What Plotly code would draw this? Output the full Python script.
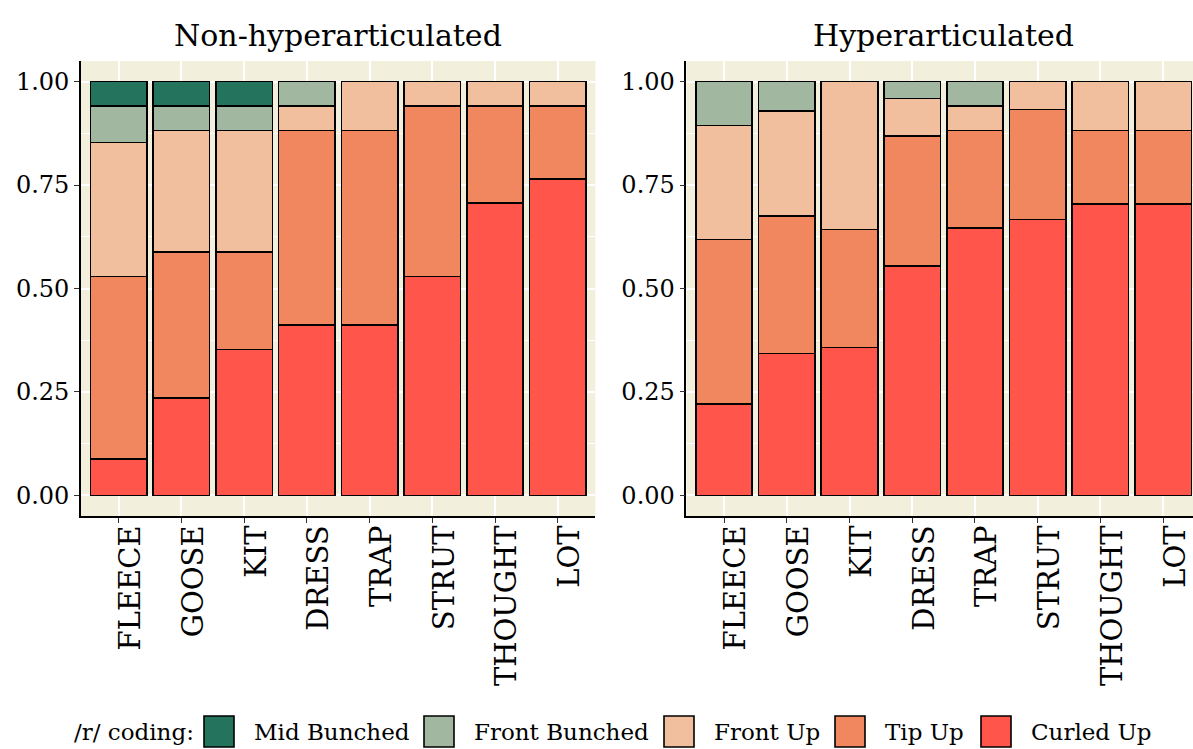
import plotly.graph_objects as go

W, H = 1193, 749

categories = ["FLEECE", "GOOSE", "KIT", "DRESS", "TRAP", "STRUT", "THOUGHT", "LOT"]
series_names = ["Curled Up", "Tip Up", "Front Up", "Front Bunched", "Mid Bunched"]
series_colors = ["#FF554A", "#F0875F", "#F1BE9E", "#A2B7A0", "#23735D"]
legend_order = ["Mid Bunched", "Front Bunched", "Front Up", "Tip Up", "Curled Up"]

# Non-hyperarticulated proportions (stack from bottom)
non_curled = [0.088, 0.235, 0.353, 0.412, 0.412, 0.529, 0.706, 0.765]
non_tip = [0.441, 0.353, 0.235, 0.470, 0.470, 0.412, 0.235, 0.176]
non_frontup = [0.324, 0.294, 0.294, 0.059, 0.118, 0.059, 0.059, 0.059]
non_frontbunched = [0.088, 0.059, 0.059, 0.059, 0, 0, 0, 0]
non_midbunched = [0.059, 0.059, 0.059, 0, 0, 0, 0, 0]

# Hyperarticulated proportions
hyp_curled = [0.221, 0.343, 0.357, 0.555, 0.647, 0.667, 0.705, 0.705]
hyp_tip = [0.397, 0.333, 0.286, 0.313, 0.235, 0.266, 0.177, 0.177]
hyp_frontup = [0.276, 0.253, 0.357, 0.091, 0.059, 0.067, 0.118, 0.118]
hyp_frontbunched = [0.106, 0.071, 0, 0.041, 0.059, 0, 0, 0]
hyp_midbunched = [0, 0, 0, 0, 0, 0, 0, 0]

panel_titles = ["Non-hyperarticulated", "Hyperarticulated"]
y_ticks = [0.0, 0.25, 0.5, 0.75, 1.0]
y_ticklabels = ["0.00", "0.25", "0.50", "0.75", "1.00"]

non_series = [non_curled, non_tip, non_frontup, non_frontbunched, non_midbunched]
hyp_series = [hyp_curled, hyp_tip, hyp_frontup, hyp_frontbunched, hyp_midbunched]

FONT = "DejaVu Serif"
BG = "#F2F0DC"

fig = go.Figure()

for panel, (data, xa, ya) in enumerate([(non_series, "x", "y"), (hyp_series, "x2", "y2")]):
    for name, color, vals in zip(series_names, series_colors, data):
        fig.add_trace(go.Bar(
            x=categories,
            y=[v if v > 0 else None for v in vals],
            name=name,
            marker=dict(color=color, line=dict(color="black", width=1.6)),
            width=0.9,
            xaxis=xa, yaxis=ya,
            showlegend=False,
        ))

# pixel layout
left_dom = [81 / W, 595.4 / W]
right_dom = [686.4 / W, 1.0]
ydom = [1 - 516 / H, 1 - 61 / H]
px_per_cat = (595.4 - 81) / 8.2
right_max = -0.6 + (W - 686.4) / px_per_cat

xcommon = dict(
    type="category", categoryorder="array", categoryarray=categories,
    showline=True, linecolor="black", linewidth=1.6,
    ticks="outside", ticklen=5, tickcolor="#333333", tickwidth=1.2,
    tickangle=-90, tickfont=dict(family=FONT, size=29, color="black"),
    ticklabelstandoff=-9, ticklabelshift=12,
    showgrid=True, gridcolor="white", gridwidth=1.6, zeroline=False,
)
ycommon = dict(
    range=[-0.05, 1.05], tickvals=y_ticks, ticktext=y_ticklabels,
    showline=True, linecolor="black", linewidth=1.6,
    ticks="outside", ticklen=5, tickcolor="#333333", tickwidth=1.2,
    tickfont=dict(family=FONT, size=24, color="black"),
    showgrid=True, gridcolor="white", gridwidth=1.6, zeroline=False,
    minor=dict(tickvals=[0.125, 0.375, 0.625, 0.875], showgrid=True,
               gridcolor="white", gridwidth=0.8, ticks=""),
)

fig.update_layout(
    width=W, height=H,
    margin=dict(l=0, r=0, t=0, b=0),
    paper_bgcolor="white", plot_bgcolor=BG,
    barmode="stack", bargap=0.1,
    xaxis=dict(domain=left_dom, range=[-0.6, 7.6], anchor="y", **xcommon),
    yaxis=dict(domain=ydom, anchor="x", **ycommon),
    xaxis2=dict(domain=right_dom, range=[-0.6, right_max], anchor="y2", **xcommon),
    yaxis2=dict(domain=ydom, anchor="x2", **ycommon),
    showlegend=False,
)

# panel titles
for title, dom in zip(panel_titles, [left_dom, [686.4 / W, (686.4 + 514.4) / W]]):
    fig.add_annotation(
        text=title, xref="paper", yref="paper",
        x=(dom[0] + dom[1]) / 2, y=1 - 35 / H,
        xanchor="center", yanchor="middle", showarrow=False,
        font=dict(family=FONT, size=30, color="black"),
    )

# custom legend (key boxes + labels)
fig.add_annotation(
    text="/r/ coding:", xref="paper", yref="paper",
    x=196 / W, y=1 - 732 / H, xanchor="right", yanchor="middle",
    showarrow=False, font=dict(family=FONT, size=23, color="black"),
)
key_left_px = [204, 424, 664, 835, 981]
color_of = dict(zip(series_names, series_colors))
for name, kx in zip(legend_order, key_left_px):
    fig.add_shape(
        type="rect", xref="paper", yref="paper",
        x0=kx / W, x1=(kx + 30) / W, y0=1 - 747 / H, y1=1 - 716 / H,
        fillcolor=color_of[name], line=dict(color="black", width=1.6),
    )
    fig.add_annotation(
        text=name, xref="paper", yref="paper",
        x=(kx + 48) / W, y=1 - 732 / H, xanchor="left", yanchor="middle",
        showarrow=False, font=dict(family=FONT, size=23, color="black"),
    )

fig.write_html(
    "out.html",
    config={"displayModeBar": False},
    post_script="document.body.style.margin='0';document.body.style.overflow='hidden';",
)
